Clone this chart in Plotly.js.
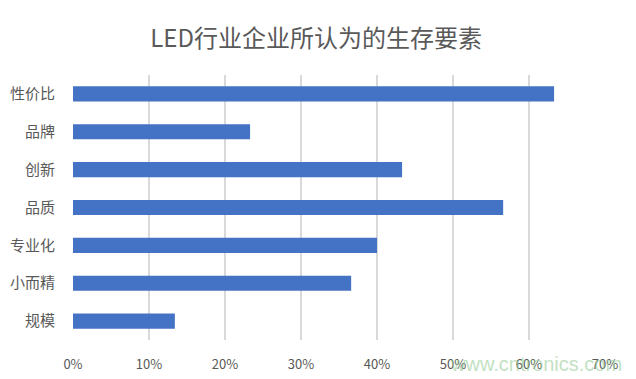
<!DOCTYPE html>
<html>
<head>
<meta charset="utf-8">
<script src="https://cdn.plot.ly/plotly-3.0.1.min.js"></script>
<style>html,body{margin:0;padding:0;background:#fff;}#chart{width:636px;height:379px;}</style>
</head>
<body>
<div id="chart"></div>
<script>
const categories = ["性价比", "品牌", "创新", "品质", "专业化", "小而精", "规模"];
const values = [0.633, 0.233, 0.433, 0.566, 0.400, 0.366, 0.134];
const tickValues = [0, 0.1, 0.2, 0.3, 0.4, 0.5, 0.6, 0.7];
const tickLabels = ["0%", "10%", "20%", "30%", "40%", "50%", "60%", "70%"];
const titleText = "LED行业企业所认为的生存要素";
const watermark = "www.cntronics.com";

const FONT = "'Noto Sans CJK SC', 'Noto Sans', sans-serif";

const trace = {
  type: "bar",
  orientation: "h",
  x: values,
  y: categories,
  marker: { color: "#4472C4", line: { width: 0 } },
  hoverinfo: "x+y"
};

const layout = {
  width: 636,
  height: 379,
  paper_bgcolor: "#ffffff",
  plot_bgcolor: "#ffffff",
  margin: { l: 73, r: 31, t: 75, b: 39, pad: 0 },
  font: { family: FONT, color: "#595959" },
  title: {
    text: titleText,
    font: { family: FONT, size: 24, color: "#595959" },
    x: 0.497, xanchor: "center",
    y: 0.897, yanchor: "middle", yref: "container"
  },
  bargap: 0.6,
  showlegend: false,
  xaxis: {
    range: [0, 0.7],
    tickvals: tickValues,
    ticktext: tickLabels,
    showgrid: true,
    gridcolor: "#d9d9d9",
    gridwidth: 1.5,
    zeroline: false,
    showline: false,
    ticks: "outside",
    ticklen: 12,
    tickcolor: "rgba(0,0,0,0)",
    tickfont: { family: FONT, size: 13, color: "#595959" },
    fixedrange: true
  },
  yaxis: {
    type: "category",
    autorange: "reversed",
    showgrid: false,
    zeroline: false,
    showline: false,
    ticks: "outside",
    ticklen: 14,
    tickcolor: "rgba(0,0,0,0)",
    tickfont: { family: FONT, size: 15, color: "#595959" },
    fixedrange: true
  },
  annotations: [{
    text: watermark,
    xref: "paper", yref: "paper",
    x: 0.870, y: -0.09,
    xanchor: "center", yanchor: "middle",
    showarrow: false,
    font: { family: "'Liberation Sans', Arial, sans-serif", size: 20, color: "rgba(140,200,140,0.55)" }
  }]
};

Plotly.newPlot("chart", [trace], layout, { displayModeBar: false, staticPlot: true });
</script>
</body>
</html>
